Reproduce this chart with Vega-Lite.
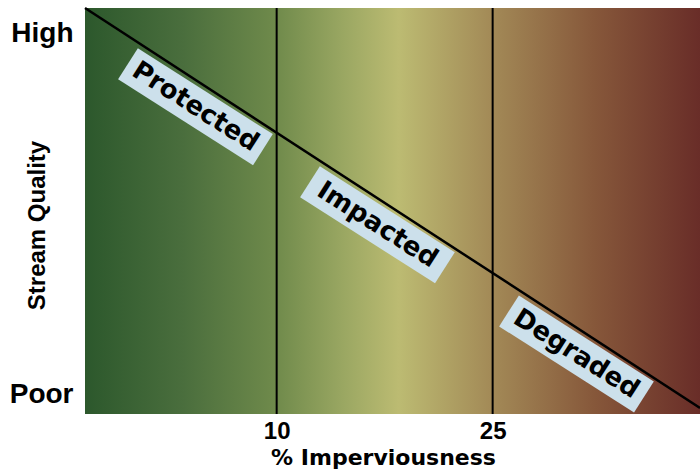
{
  "$schema": "https://vega.github.io/schema/vega-lite/v6.json",
  "width": 615,
  "height": 406,
  "autosize": "none",
  "padding": {"left": 85, "top": 8, "right": 0, "bottom": 62},
  "background": "white",
  "config": {"view": {"stroke": null}},
  "layer": [
    {
      "data": {"values": [{}]},
      "mark": {
        "type": "rect",
        "fill": {
          "gradient": "linear", "x1": 0, "y1": 0, "x2": 1, "y2": 0,
          "stops": [
            {"offset": 0, "color": "#2c582c"},
            {"offset": 0.16, "color": "#4a6e3d"},
            {"offset": 0.31, "color": "#6f8a4b"},
            {"offset": 0.42, "color": "#9aa762"},
            {"offset": 0.51, "color": "#bcbb72"},
            {"offset": 0.66, "color": "#a38a57"},
            {"offset": 0.83, "color": "#86573a"},
            {"offset": 1, "color": "#692d28"}
          ]
        }
      },
      "encoding": {}
    },
    {
      "data": {"values": [{"x": 10}, {"x": 25}]},
      "mark": {"type": "rule", "color": "black", "strokeWidth": 2},
      "encoding": {
        "x": {"field": "x", "type": "quantitative"}
      }
    },
    {
      "data": {"values": [{"x": -3.31, "y": 100}, {"x": 39.4, "y": 1.5}]},
      "mark": {"type": "line", "color": "black", "strokeWidth": 2.5},
      "encoding": {
        "x": {"field": "x", "type": "quantitative"},
        "y": {"field": "y", "type": "quantitative"}
      }
    },
    {
      "data": {"values": [
        {"label": "Protected", "x": 4.36, "y": 75.7},
        {"label": "Impacted", "x": 17.0, "y": 46.6},
        {"label": "Degraded", "x": 30.82, "y": 14.8}
      ]},
      "layer": [
        {
          "mark": {
            "type": "point",
            "shape": "M -1 -0.23 L 1 -0.23 L 1 0.23 L -1 0.23 Z",
            "filled": true,
            "fill": "#cce0eb",
            "opacity": 1,
            "strokeWidth": 0,
            "size": 25600,
            "angle": 32.5
          },
          "encoding": {
            "x": {"field": "x", "type": "quantitative"},
            "y": {"field": "y", "type": "quantitative"}
          }
        },
        {
          "mark": {
            "type": "text",
            "font": "DejaVu Sans",
            "fontWeight": "bold",
            "fontSize": 26,
            "color": "black",
            "angle": 32.5,
            "align": "center",
            "baseline": "middle"
          },
          "encoding": {
            "x": {"field": "x", "type": "quantitative"},
            "y": {"field": "y", "type": "quantitative"},
            "text": {"field": "label"}
          }
        }
      ]
    }
  ],
  "encoding": {
    "x": {
      "type": "quantitative",
      "scale": {"domain": [-3.31, 39.4], "nice": false, "zero": false},
      "axis": {
        "title": "% Imperviousness",
        "titleFont": "DejaVu Sans",
        "titleFontSize": 22,
        "titleFontWeight": "bold",
        "titleColor": "black",
        "titleBaseline": "middle",
        "titleX": 298,
        "titleY": 43,
        "values": [10, 25],
        "domain": false,
        "ticks": false,
        "grid": false,
        "labelFont": "Liberation Sans",
        "labelFontSize": 24,
        "labelFontWeight": "bold",
        "labelColor": "black",
        "labelBaseline": "middle",
        "labelPadding": 17
      }
    },
    "y": {
      "type": "quantitative",
      "scale": {"domain": [0, 100], "nice": false, "zero": false},
      "axis": {
        "title": "Stream Quality",
        "titleFont": "Liberation Sans",
        "titleFontSize": 24,
        "titleFontWeight": "bold",
        "titleColor": "black",
        "titleAngle": -90,
        "titleBaseline": "middle",
        "titleX": -48,
        "titleY": 217,
        "values": [4.7, 93.6],
        "labelExpr": "datum.value > 50 ? 'High' : 'Poor'",
        "domain": false,
        "ticks": false,
        "grid": false,
        "labelFont": "Liberation Sans",
        "labelFontSize": 28,
        "labelFontWeight": "bold",
        "labelColor": "black",
        "labelBaseline": "middle",
        "labelPadding": 12
      }
    }
  }
}
